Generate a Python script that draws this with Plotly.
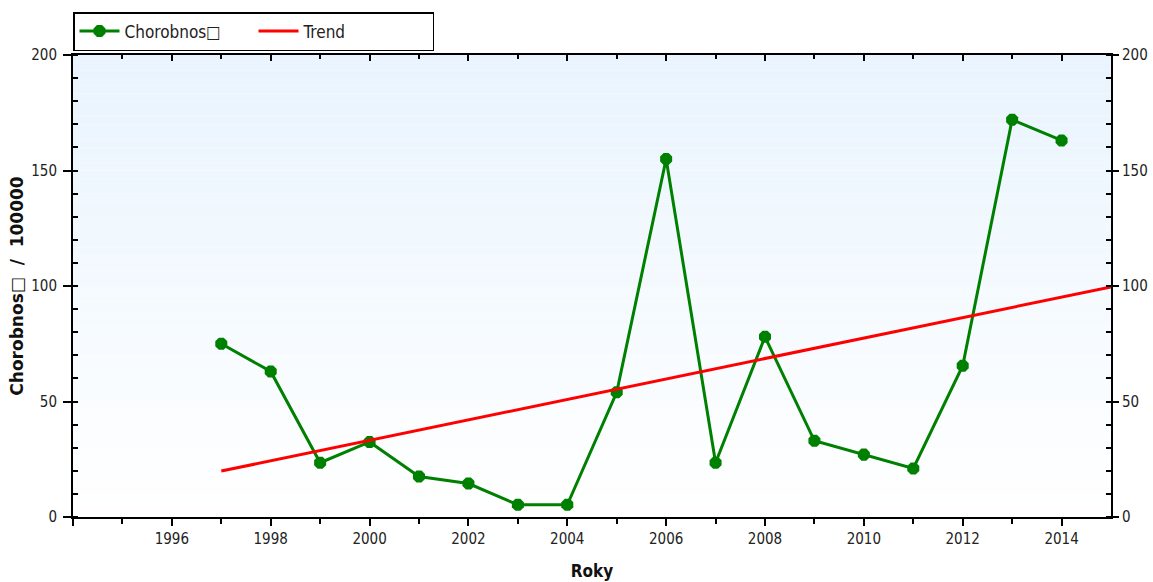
import plotly.graph_objects as go

years = list(range(1997, 2015))
values = [75, 63, 23.5, 32.5, 17.5, 14.5, 5.3, 5.3, 54, 155, 23.5, 78, 33, 27, 21, 65.5, 172, 163]
trend_x = [1997, 2015]
trend_y = [19.9, 99.6]
x_tick_vals = [1994, 1996, 1998, 2000, 2002, 2004, 2006, 2008, 2010, 2012, 2014]
x_tick_text = ["", "1996", "1998", "2000", "2002", "2004", "2006", "2008", "2010", "2012", "2014"]
x_minor_vals = [1995, 1997, 1999, 2001, 2003, 2005, 2007, 2009, 2011, 2013]

FONT = "DejaVu Sans Condensed, Liberation Sans, Arial, sans-serif"

W, H = 1153, 582

fig = go.Figure()
fig.add_trace(go.Scatter(
    x=years, y=values, mode="lines+markers", name="Chorobnos\u25a1",
    line=dict(color="#008000", width=3),
    marker=dict(color="#008000", size=13, symbol="octagon"),
))
fig.add_trace(go.Scatter(
    x=trend_x, y=trend_y, mode="lines", name="Trend",
    line=dict(color="#ff0000", width=3),
))
# invisible trace for right / top axes
fig.add_trace(go.Scatter(x=[1994], y=[0], xaxis="x2", yaxis="y2", mode="markers",
                         marker=dict(opacity=0), showlegend=False, hoverinfo="skip"))

# gradient background
shapes = []
n = 60
top = (233, 244, 254)
for i in range(n):
    t = i / (n - 1)
    c = tuple(int(round(top[k] + (255 - top[k]) * t)) for k in range(3))
    shapes.append(dict(type="rect", xref="paper", yref="paper",
                       x0=0, x1=1, y1=1 - i / n, y0=1 - (i + 1) / n,
                       fillcolor="rgb(%d,%d,%d)" % c, line=dict(width=0), layer="below"))

axis_common = dict(showgrid=False, zeroline=False, showline=True, linecolor="#000",
                   linewidth=2, tickcolor="#000", tickwidth=2, automargin=False,
                   tickfont=dict(family=FONT, size=15, color="#222"))

fig.update_layout(
    width=W, height=H,
    margin=dict(l=73, r=42, t=55, b=65),
    paper_bgcolor="white", plot_bgcolor="rgba(0,0,0,0)",
    shapes=shapes,
    showlegend=True,
    legend=dict(orientation="h", xref="container", yref="container",
                x=73 / W, y=1 - 12 / H, xanchor="left", yanchor="top",
                bgcolor="white", bordercolor="#000", borderwidth=1.5,
                font=dict(family=FONT, size=17, color="#222"),
                itemwidth=40, entrywidth=124, entrywidthmode="pixels"),
    xaxis=dict(range=[1994, 2015], tickmode="array", tickvals=x_tick_vals, ticktext=x_tick_text,
               ticks="outside", ticklen=7,
               minor=dict(tickvals=x_minor_vals, ticks="outside", ticklen=5, tickcolor="#000", tickwidth=1.5),
               title=dict(text="<b>Roky</b>", font=dict(family=FONT, size=17, color="#111"), standoff=18),
               **axis_common),
    xaxis2=dict(range=[1994, 2015], overlaying="x", side="top", tickmode="array",
                tickvals=x_tick_vals, showticklabels=False, ticks="inside", ticklen=6,
                minor=dict(tickvals=x_minor_vals, ticks="inside", ticklen=4, tickcolor="#000", tickwidth=1.5),
                **axis_common),
    yaxis=dict(range=[0, 200], tickmode="linear", tick0=0, dtick=50,
               ticks="outside", ticklen=8, ticklabelstandoff=3,
               minor=dict(dtick=10, ticks="inside", ticklen=5, tickcolor="#000", tickwidth=1.5),
               title=dict(text="<b>Chorobnos\u25a1  /  100000</b>",
                          font=dict(family="DejaVu Sans, Arial, sans-serif", size=17, color="#111"),
                          standoff=3),
               **axis_common),
    yaxis2=dict(range=[0, 200], tickmode="linear", tick0=0, dtick=50, overlaying="y", side="right",
                ticks="outside", ticklen=6, ticklabelstandoff=0,
                minor=dict(dtick=10, ticks="inside", ticklen=5, tickcolor="#000", tickwidth=1.5),
                **axis_common),
)

fig.write_html("out.html", config={"displayModeBar": False},
               post_script="document.body.style.margin='0';document.body.style.overflow='hidden';")
